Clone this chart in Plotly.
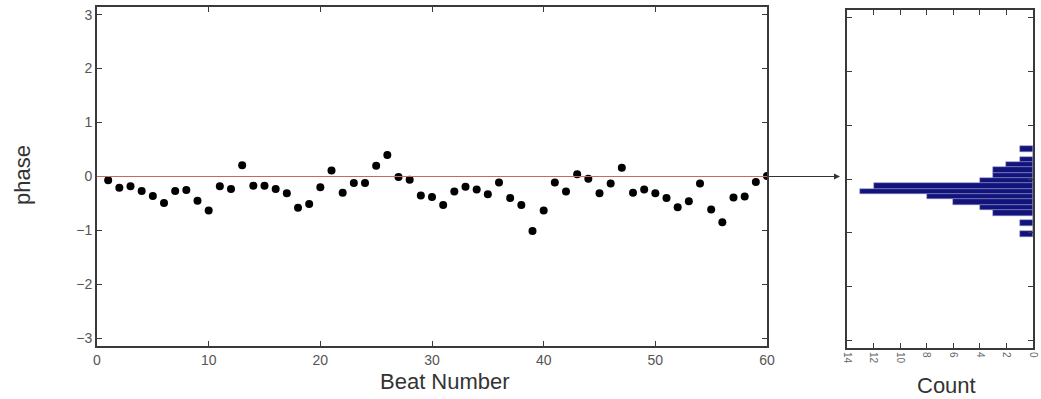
import plotly.graph_objects as go

# ---- data ----
beat_number = list(range(1, 61))
phase = [-0.07, -0.21, -0.18, -0.27, -0.36, -0.49, -0.27, -0.25, -0.45, -0.63,
         -0.18, -0.23, 0.21, -0.17, -0.17, -0.23, -0.31, -0.58, -0.51, -0.20,
         0.11, -0.30, -0.12, -0.12, 0.20, 0.40, -0.01, -0.06, -0.35, -0.38,
         -0.53, -0.28, -0.19, -0.24, -0.33, -0.11, -0.40, -0.53, -1.01, -0.63,
         -0.11, -0.28, 0.04, -0.04, -0.31, -0.13, 0.16, -0.30, -0.24, -0.31,
         -0.40, -0.57, -0.46, -0.13, -0.61, -0.85, -0.39, -0.37, -0.10, 0.01]

hist_centers = [0.56, 0.46, 0.36, 0.27, 0.17, 0.07, -0.03, -0.13, -0.23, -0.33,
                -0.43, -0.53, -0.63, -0.72, -0.82, -0.92, -1.02]
hist_counts = [1, 0, 1, 2, 3, 3, 4, 12, 13, 8, 6, 4, 3, 0, 1, 0, 1]
bin_width = 0.099

phase_ticks = [-3, -2, -1, 0, 1, 2, 3]
beat_ticks = [0, 10, 20, 30, 40, 50, 60]
count_ticks = [0, 2, 4, 6, 8, 10, 12, 14]
reference_phase = 0.0

W, H = 1041, 399
PI = 3.14159

fig = go.Figure()

fig.add_trace(go.Scatter(
    x=beat_number, y=phase, mode="markers",
    marker=dict(color="black", size=8, symbol="circle"),
    xaxis="x", yaxis="y", showlegend=False, hoverinfo="x+y"))

fig.add_trace(go.Bar(
    x=hist_counts, y=hist_centers, orientation="h", width=bin_width,
    marker=dict(color="#13137c", line=dict(color="#8a92c4", width=0.5)),
    xaxis="x2", yaxis="y2", showlegend=False))

# red reference line across the scatter panel
fig.add_shape(type="line", xref="x domain", yref="y", x0=0, x1=1,
              y0=reference_phase, y1=reference_phase,
              line=dict(color="#c46a60", width=1.2))

axis_common = dict(showline=True, linecolor="#3a3a3a", linewidth=2, mirror="ticks",
                   ticks="inside", ticklen=5, tickcolor="#3a3a3a", tickwidth=1,
                   showgrid=False, zeroline=False, automargin=False,
                   ticklabeloverflow="allow",
                   tickfont=dict(family="Liberation Sans, Arial, sans-serif", size=14, color="#555555"))

fig.update_layout(
    width=W, height=H,
    margin=dict(l=0, r=0, t=0, b=0, pad=0),
    paper_bgcolor="white", plot_bgcolor="white",
    xaxis=dict(axis_common, domain=[97 / W, 767 / W], range=[0, 60],
               tickvals=beat_ticks, anchor="y", ticklabelstandoff=0),
    yaxis=dict(axis_common, domain=[1 - 346 / H, 1 - 7 / H], range=[-PI, PI],
               tickvals=phase_ticks, anchor="x"),
    xaxis2=dict(axis_common, domain=[847 / W, 1033 / W], range=[14, 0],
                tickvals=count_ticks, tickangle=90, anchor="y2",
                tickfont=dict(family="Liberation Sans, Arial, sans-serif", size=10, color="#666666")),
    yaxis2=dict(axis_common, domain=[1 - 348 / H, 1 - 10 / H], range=[-PI, PI],
                tickvals=phase_ticks, showticklabels=False, anchor="x2"),
    bargap=0,
)

# arrow from scatter panel to histogram
fig.add_annotation(xref="paper", yref="y", x=840 / W, y=reference_phase,
                   axref="pixel", ayref="pixel", ax=-73, ay=0, text="",
                   showarrow=True, arrowhead=2, arrowsize=1, arrowwidth=1.2,
                   arrowcolor="#333333")

title_font = dict(family="Liberation Sans, Arial, sans-serif", size=22, color="#333333")
fig.add_annotation(xref="paper", yref="paper", x=445 / W, y=1 - 381 / H,
                   xanchor="center", yanchor="middle",
                   text="Beat Number", showarrow=False, font=title_font)
fig.add_annotation(xref="paper", yref="paper", x=946 / W, y=1 - 385 / H,
                   xanchor="center", yanchor="middle",
                   text="Count", showarrow=False, font=title_font)
fig.add_annotation(xref="paper", yref="paper", x=22 / W, y=1 - 175 / H,
                   xanchor="center", yanchor="middle",
                   text="phase", showarrow=False, textangle=-90, font=title_font)

fig.write_html("out.html", config={"displayModeBar": False},
               post_script="document.body.style.margin='0px';document.body.style.overflow='hidden';")
